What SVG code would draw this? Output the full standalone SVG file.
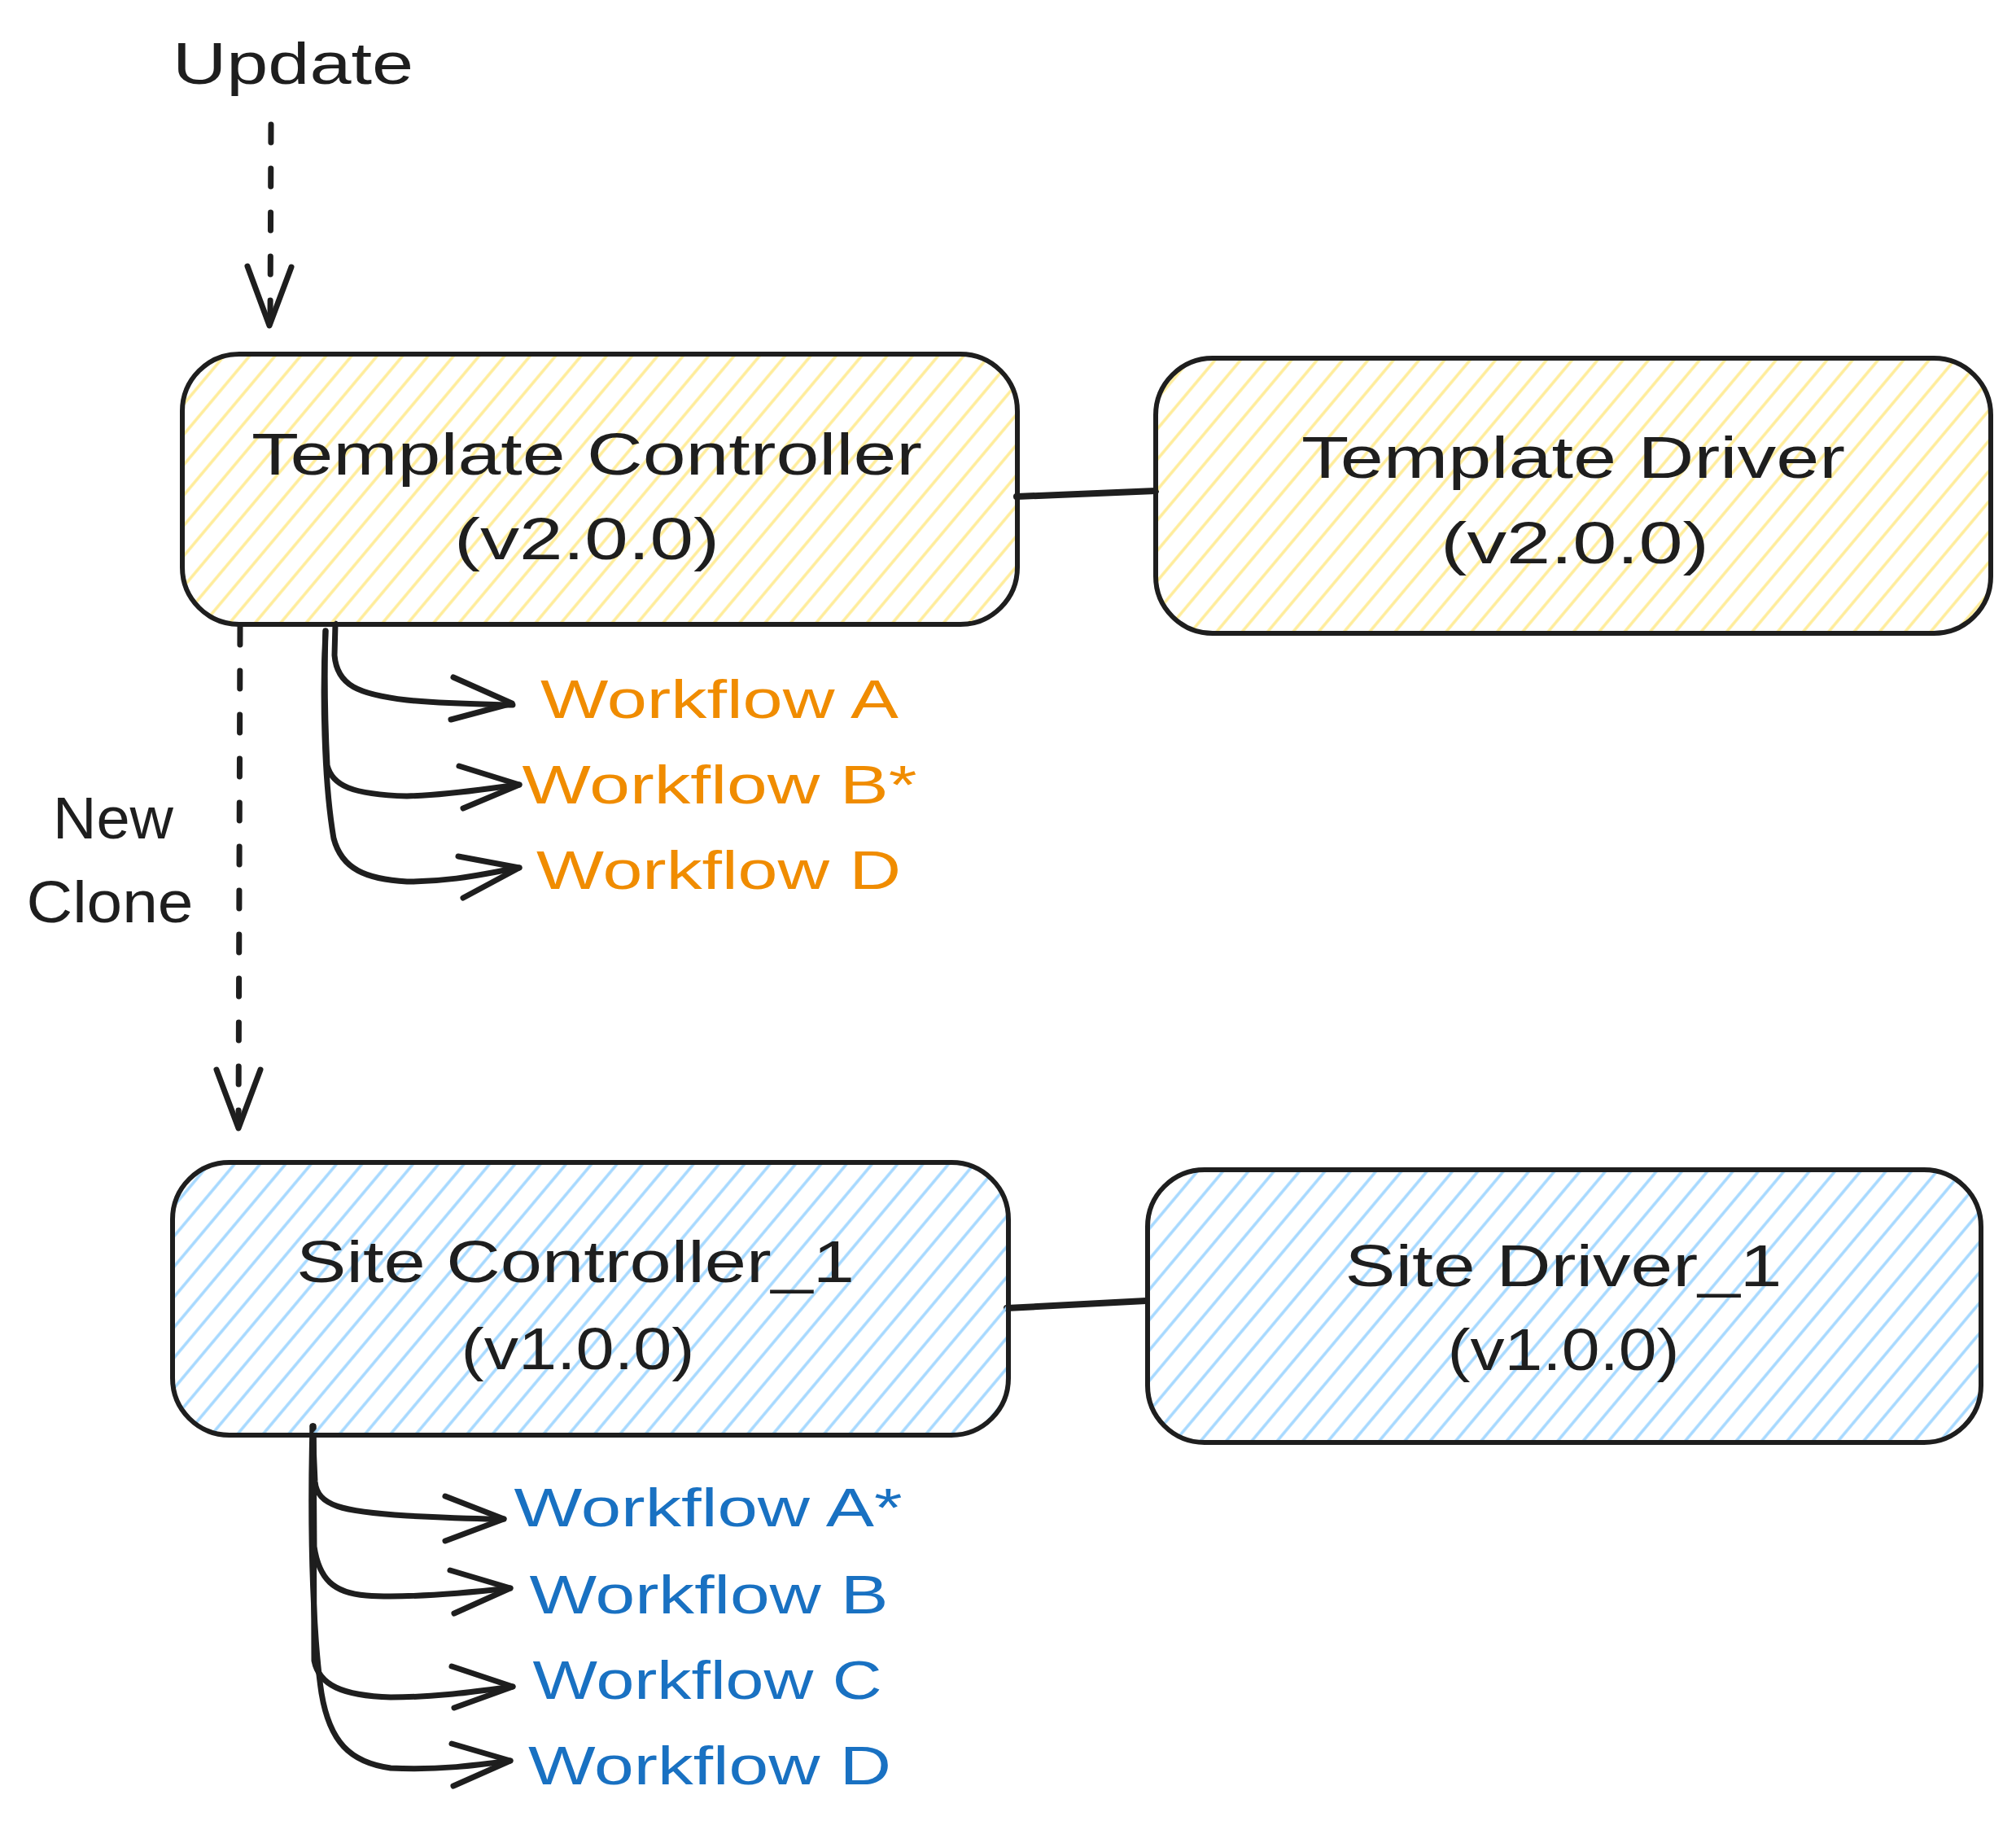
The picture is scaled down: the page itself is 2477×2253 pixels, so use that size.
<svg xmlns="http://www.w3.org/2000/svg" width="2477" height="2253" viewBox="0 0 2477 2253">
<style>
.box{stroke:#1e1e1e;stroke-width:6;}
.t{font-family:"Liberation Sans","Noto Sans",sans-serif;fill:#1e1e1e;text-anchor:middle;}
.big{font-size:72px;}
.wf{font-size:66px;}
.or{fill:#f08c00;}
.bl{fill:#1971c2;}
.ln{fill:none;stroke:#1e1e1e;stroke-width:7;stroke-linecap:round;stroke-linejoin:round;}
.dash{stroke-dasharray:22 32;}
</style>
<defs>
<pattern id="hy" patternUnits="userSpaceOnUse" width="24" height="24" patternTransform="rotate(40)">
<line x1="12" y1="-2" x2="12" y2="26" stroke="#ffec99" stroke-width="3.5"/>
</pattern>
<pattern id="hb" patternUnits="userSpaceOnUse" width="24" height="24" patternTransform="rotate(40)">
<line x1="12" y1="-2" x2="12" y2="26" stroke="#a5d8ff" stroke-width="3.5"/>
</pattern>
</defs>
<rect width="2477" height="2253" fill="#ffffff"/>

<g id="connectors">
<!-- Update dashed arrow -->
<path class="ln dash" d="M333 153 L332 398"/>
<path class="ln" d="M304 327 L331 400 L358 328"/>
<!-- New Clone dashed arrow -->
<path class="ln dash" d="M295 770 L293 1384"/>
<path class="ln" d="M266 1314 L293 1386 L320 1314"/>
<!-- controller-driver lines -->
<path class="ln" style="stroke-width:8" d="M1249 610 L1420 603"/>
<path class="ln" style="stroke-width:8" d="M1237 1607 L1408 1598"/>
<!-- template workflows -->
<path class="ln" d="M412 766 L411 805 C414 842 440 853 500 860 C550 865 600 865 630 866"/>
<path class="ln" d="M557 832 L629 864 L554 884"/>
<path class="ln" d="M400 775 C398 840 400 900 402 940 C408 965 432 976 500 978 C560 976 600 968 638 964"/>
<path class="ln" d="M564 941 L638 964 L569 993"/>
<path class="ln" d="M400 775 C396 850 398 960 410 1030 C420 1068 450 1080 500 1083 C560 1083 600 1072 638 1066"/>
<path class="ln" d="M563 1052 L638 1066 L569 1103"/>
<!-- site workflows -->
<path class="ln" d="M384 1752 L387 1820 C390 1850 420 1857 500 1862 C560 1865 600 1866 619 1866"/>
<path class="ln" d="M547 1838 L619 1866 L547 1893"/>
<path class="ln" d="M385 1752 L386 1900 C392 1940 410 1957 450 1960 C500 1964 580 1956 627 1951"/>
<path class="ln" d="M553 1929 L627 1951 L558 1982"/>
<path class="ln" d="M385 1752 L386 2040 C392 2070 420 2083 480 2085 C540 2085 590 2077 630 2072"/>
<path class="ln" d="M555 2047 L630 2072 L558 2098"/>
<path class="ln" d="M384 1752 C380 1900 386 2020 395 2080 C405 2140 430 2165 480 2172 C540 2175 590 2168 627 2163"/>
<path class="ln" d="M555 2142 L627 2163 L557 2194"/>
</g>

<g id="node-update">
<text class="t big" x="360" y="103" textLength="296" lengthAdjust="spacingAndGlyphs">Update</text>
</g>

<g id="node-template-controller">
<rect class="box" x="224" y="435" width="1026" height="332" rx="70" ry="70" fill="url(#hy)"/>
<text class="t big" x="721" y="583" textLength="824" lengthAdjust="spacingAndGlyphs">Template Controller</text>
<text class="t big" x="721" y="687" textLength="326" lengthAdjust="spacingAndGlyphs">(v2.0.0)</text>
</g>

<g id="node-template-driver">
<rect class="box" x="1420" y="440" width="1026" height="338" rx="70" ry="70" fill="url(#hy)"/>
<text class="t big" x="1933" y="587" textLength="668" lengthAdjust="spacingAndGlyphs">Template Driver</text>
<text class="t big" x="1935" y="692" textLength="330" lengthAdjust="spacingAndGlyphs">(v2.0.0)</text>
</g>

<g id="node-site-controller">
<rect class="box" x="212" y="1428" width="1027" height="335" rx="70" ry="70" fill="url(#hb)"/>
<text class="t big" x="707" y="1575" textLength="686" lengthAdjust="spacingAndGlyphs">Site Controller_1</text>
<text class="t big" x="710" y="1682" textLength="287" lengthAdjust="spacingAndGlyphs">(v1.0.0)</text>
</g>

<g id="node-site-driver">
<rect class="box" x="1410" y="1437" width="1024" height="335" rx="70" ry="70" fill="url(#hb)"/>
<text class="t big" x="1921" y="1580" textLength="537" lengthAdjust="spacingAndGlyphs">Site Driver_1</text>
<text class="t big" x="1921" y="1683" textLength="285" lengthAdjust="spacingAndGlyphs">(v1.0.0)</text>
</g>

<g id="node-new-clone">
<text class="t big" x="139" y="1030" textLength="148" lengthAdjust="spacingAndGlyphs">New</text>
<text class="t big" x="135" y="1133" textLength="205" lengthAdjust="spacingAndGlyphs">Clone</text>
</g>

<g id="node-template-workflows">
<text class="t wf or" x="884" y="882" textLength="440" lengthAdjust="spacingAndGlyphs">Workflow A</text>
<text class="t wf or" x="884" y="987" textLength="485" lengthAdjust="spacingAndGlyphs">Workflow B*</text>
<text class="t wf or" x="883" y="1092" textLength="448" lengthAdjust="spacingAndGlyphs">Workflow D</text>
</g>

<g id="node-site-workflows">
<text class="t wf bl" x="870" y="1875" textLength="477" lengthAdjust="spacingAndGlyphs">Workflow A*</text>
<text class="t wf bl" x="871" y="1982" textLength="441" lengthAdjust="spacingAndGlyphs">Workflow B</text>
<text class="t wf bl" x="869" y="2087" textLength="429" lengthAdjust="spacingAndGlyphs">Workflow C</text>
<text class="t wf bl" x="872" y="2192" textLength="446" lengthAdjust="spacingAndGlyphs">Workflow D</text>
</g>
</svg>
